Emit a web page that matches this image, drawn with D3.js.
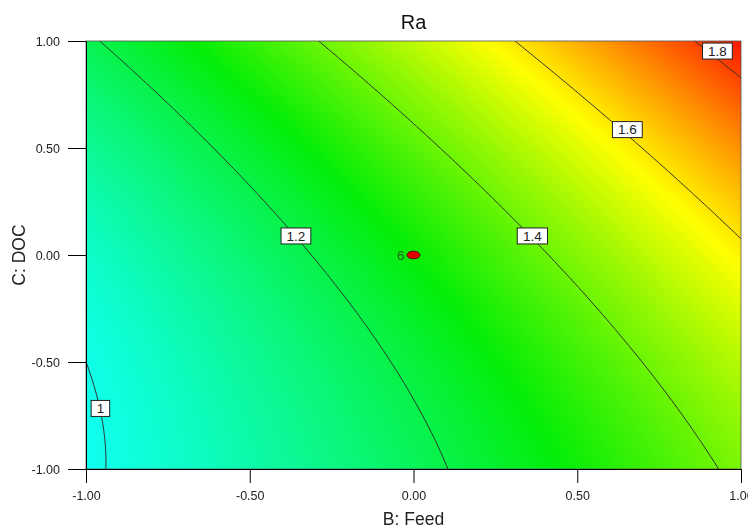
<!DOCTYPE html>
<html>
<head>
<meta charset="utf-8">
<script src="https://cdn.jsdelivr.net/npm/d3@7"></script>
<style>
  body { margin: 0; background: #fff; }
  #chart { position: relative; width: 748px; height: 531px; }
  #chart canvas, #chart svg { position: absolute; left: 0; top: 0; }
</style>
</head>
<body>
<div id="chart"></div>
<script>
// Ra response surface (coded units) over B: Feed and C: DOC
const terms = ["Intercept", "B", "C", "BC", "B^2", "C^2"];
const coefficients = [1.2827, 0.2735, 0.1585, 0.0595, 0.027, 0.053];

// contour levels and where their labels sit (B, C coded values)
const contourLevels = [1.0, 1.2, 1.4, 1.6, 1.8];
const contourLabels = ["1", "1.2", "1.4", "1.6", "1.8"];
const labelB = [-0.956, -0.359, 0.363, 0.653, 0.928];
const labelC = [-0.717, 0.089, 0.089, 0.586, 0.953];

// design points (centre point with replicate count)
const designB = [0];
const designC = [0];
const designCount = [6];

// axes
const xTicks = [-1, -0.5, 0, 0.5, 1];
const yTicks = [-1, -0.5, 0, 0.5, 1];

// colour ramp: cyan - green - yellow - red
const colorValues = [0.99, 1.28, 1.57, 1.86];
const colorRamp = ["#10fff0", "#04ee08", "#ffff00", "#ff1000"];

const W = 748, H = 531;
const plot = { left: 86, right: 741, top: 41, bottom: 469 };
const font = "Arial, 'Liberation Sans', sans-serif";

const x = d3.scaleLinear().domain([-1, 1]).range([plot.left, plot.right]);
const y = d3.scaleLinear().domain([-1, 1]).range([plot.bottom, plot.top]);
const color = d3.scaleLinear().domain(colorValues).range(colorRamp)
  .interpolate(d3.interpolateRgb).clamp(true);

function ra(b, c) {
  const row = [1, b, c, b * c, b * b, c * c];
  return d3.sum(row, (v, i) => v * coefficients[i]);
}

const chart = d3.select("#chart");

// shaded surface
const canvas = chart.append("canvas").attr("width", W).attr("height", H).node();
const ctx = canvas.getContext("2d");
const pw = plot.right - plot.left, ph = plot.bottom - plot.top;
const img = ctx.createImageData(pw, ph);
for (let j = 0; j < ph; j++) {
  const c = y.invert(plot.top + j + 0.5);
  for (let i = 0; i < pw; i++) {
    const b = x.invert(plot.left + i + 0.5);
    const col = d3.rgb(color(ra(b, c)));
    const k = (j * pw + i) * 4;
    img.data[k] = col.r; img.data[k + 1] = col.g; img.data[k + 2] = col.b; img.data[k + 3] = 255;
  }
}
ctx.putImageData(img, plot.left, plot.top);

const svg = chart.append("svg").attr("width", W).attr("height", H);

svg.append("defs").append("clipPath").attr("id", "plot-clip")
  .append("rect").attr("x", plot.left).attr("y", plot.top).attr("width", pw).attr("height", ph);

// contour lines on a grid slightly wider than the plot, clipped to the frame
const n = 241;
const g = d3.scaleLinear().domain([0, n - 1]).range([-1.1, 1.1]);
const values = new Array(n * n);
for (let j = 0; j < n; j++) for (let i = 0; i < n; i++) values[j * n + i] = ra(g(i), g(j));
const contours = d3.contours().size([n, n]).thresholds(contourLevels)(values);
const proj = d3.geoTransform({
  point(px, py) { this.stream.point(x(g(px - 0.5)), y(g(py - 0.5))); }
});
svg.append("g").attr("clip-path", "url(#plot-clip)")
  .selectAll("path").data(contours).join("path")
  .attr("d", d3.geoPath(proj))
  .attr("fill", "none").attr("stroke", "#2b2b2b").attr("stroke-width", 1);

// plot frame
svg.append("rect").attr("x", plot.left).attr("y", plot.top).attr("width", pw).attr("height", ph)
  .attr("fill", "none").attr("stroke", "#555").attr("stroke-width", 0.8);

// contour labels
const lab = svg.append("g").selectAll("g").data(contourLabels).join("g")
  .attr("transform", (d, i) => `translate(${x(labelB[i])},${y(labelC[i])})`);
lab.append("rect");
lab.append("text").text(d => d)
  .attr("text-anchor", "middle").attr("dy", "0.36em")
  .attr("font-family", font).attr("font-size", 13.5)
  .attr("fill", "#222");
lab.each(function () {
  const t = d3.select(this).select("text").node().getBBox();
  const w = Math.max(17, t.width + 11), h = 16;
  d3.select(this).select("rect")
    .attr("x", -w / 2).attr("y", -h / 2).attr("width", w).attr("height", h)
    .attr("fill", "#fff").attr("stroke", "#222").attr("stroke-width", 1);
});

// design point
const dp = svg.append("g").selectAll("g").data(designCount).join("g")
  .attr("transform", (d, i) => `translate(${x(designB[i])},${y(designC[i])})`);
dp.append("ellipse").attr("rx", 6.5).attr("ry", 3.8)
  .attr("fill", "#e00000").attr("stroke", "#6a0000").attr("stroke-width", 1);
dp.append("text").text(d => d).attr("x", -9).attr("dy", "0.36em")
  .attr("text-anchor", "end")
  .attr("font-family", font).attr("font-size", 13.5)
  .attr("fill", "#1f6a1f");

// axes (hyphen-minus tick labels)
const fmt = v => d3.format(".2f")(v).replace("\u2212", "-");
const xAxis = svg.append("g").attr("transform", `translate(0,${plot.bottom})`)
  .call(d3.axisBottom(x).tickValues(xTicks).tickFormat(fmt).tickSize(14).tickSizeOuter(0).tickPadding(8));
const yAxis = svg.append("g").attr("transform", `translate(${plot.left},0)`)
  .call(d3.axisLeft(y).tickValues(yTicks).tickFormat(fmt).tickSize(18).tickSizeOuter(0).tickPadding(8));
[xAxis, yAxis].forEach(a => {
  a.selectAll("path, line").attr("stroke", "#000").attr("stroke-width", 1);
  a.selectAll("text").attr("font-family", font)
    .attr("font-size", 12.5).attr("fill", "#222");
});

// titles
svg.append("text").attr("x", (plot.left + plot.right) / 2).attr("y", 29)
  .attr("text-anchor", "middle").attr("font-family", font).attr("font-size", 20)
  .attr("fill", "#111").text("Ra");
svg.append("text").attr("x", (plot.left + plot.right) / 2).attr("y", 525)
  .attr("text-anchor", "middle").attr("font-family", font).attr("font-size", 17.5)
  .attr("fill", "#222").text("B: Feed");
svg.append("text").attr("transform", `translate(25,${(plot.top + plot.bottom) / 2}) rotate(-90)`)
  .attr("text-anchor", "middle").attr("font-family", font).attr("font-size", 17.5)
  .attr("fill", "#222").text("C: DOC");
</script>
</body>
</html>
